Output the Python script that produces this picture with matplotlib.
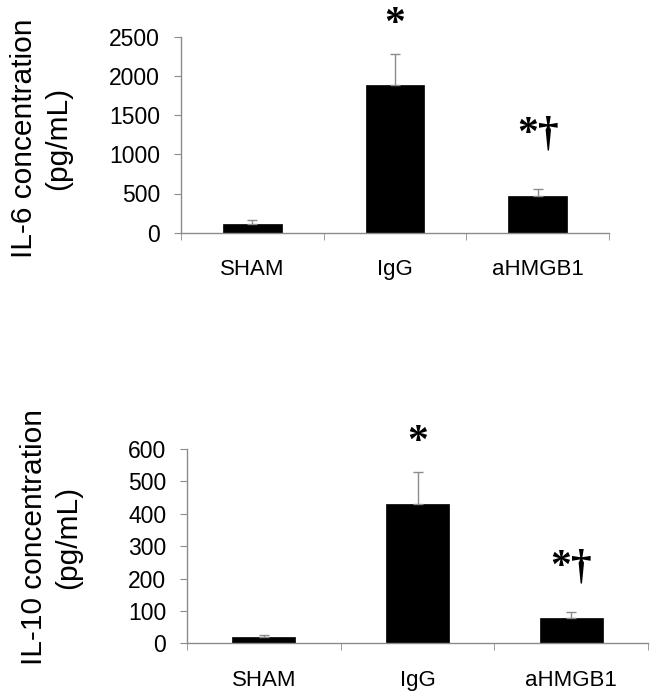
import matplotlib
matplotlib.use("Agg")
import matplotlib.pyplot as plt
import numpy as np

categories = ["SHAM", "IgG", "aHMGB1"]
il6_values = [110, 1888, 472]
il6_errors = [48, 395, 89]
il10_values = [19, 430, 77]
il10_errors = [6, 99, 20]
il6_ticks = [0, 500, 1000, 1500, 2000, 2500]
il10_ticks = [0, 100, 200, 300, 400, 500, 600]
annotations = ["", "*", "*\u2020"]

plt.rcParams['font.family'] = ['Liberation Sans', 'DejaVu Sans']

fig = plt.figure(figsize=(6.54, 6.97), dpi=100)
W, H = 654, 697

def make_axes(left, right, bottom_px, top_px):
    return fig.add_axes([left / W, (H - bottom_px) / H, (right - left) / W, (bottom_px - top_px) / H])

ax1 = make_axes(181, 609, 232.7, 36.7)
ax2 = make_axes(187, 648, 643.3, 449.0)

gray = '#8c8c8c'

def style(ax, values, errors, ticks, ylabel, label_xy, ann_y):
    x = np.arange(len(categories))
    ax.bar(x, values, width=0.41, color='black', edgecolor='black', linewidth=0.5, zorder=2)
    ax.errorbar(x, values, yerr=[np.zeros(len(errors)), errors], fmt='none',
                ecolor=gray, elinewidth=1.0, capsize=3.5, capthick=1.0, zorder=3)
    ax.set_xlim(-0.5, len(categories) - 0.5)
    ax.set_ylim(ticks[0], ticks[-1])
    ax.set_yticks(ticks)
    ax.set_yticklabels([str(t) for t in ticks], fontsize=16.5)
    ax.set_xticks(x)
    ax.set_xticklabels(categories, fontsize=16)
    ax.set_xticks(np.arange(len(categories) + 1) - 0.5, minor=True)
    ax.tick_params(axis='x', which='major', length=0, pad=19)
    ax.tick_params(axis='x', which='minor', length=5, color=gray, direction='out')
    ax.tick_params(axis='y', length=5, color=gray, direction='out', pad=10)
    for s in ['top', 'right']:
        ax.spines[s].set_visible(False)
    for s in ['left', 'bottom']:
        ax.spines[s].set_color(gray)
        ax.spines[s].set_linewidth(1.0)
    ax.set_ylabel(ylabel, fontsize=21.5, linespacing=1.25, multialignment='center')
    ax.yaxis.set_label_coords(*label_xy)
    for xi, txt, yy in zip(x, annotations, ann_y):
        if txt:
            ax.text(xi, yy, txt, ha='center', va='center', fontsize=30, fontweight='bold',
                    family=['Liberation Serif', 'DejaVu Serif'], clip_on=False)

style(ax1, il6_values, il6_errors, il6_ticks, "IL-6 concentration\n(pg/mL)", (-0.255, 0.483),
      [0, 2650, 1250])
style(ax2, il10_values, il10_errors, il10_ticks, "IL-10 concentration\n(pg/mL)", (-0.228, 0.547),
      [0, 620, 235])

fig.savefig("out.png", dpi=100, facecolor='white')
